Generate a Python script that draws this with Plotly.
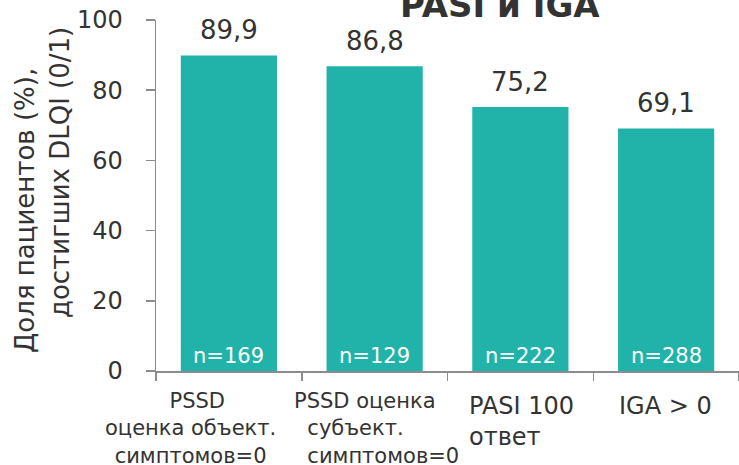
import plotly.graph_objects as go

categories = ["PSSD оценка объект. симптомов=0", "PSSD оценка субъект. симптомов=0",
              "PASI 100 ответ", "IGA > 0"]
values = [89.9, 86.8, 75.2, 69.1]
n_labels = ["n=169", "n=129", "n=222", "n=288"]
tick_label_lines = [
    ["\u00a0\u00a0PSSD", "оценка объект.", "симптомов=0"],
    ["PSSD оценка", "\u00a0\u00a0субъект.", "\u00a0\u00a0симптомов=0"],
    ["PASI 100", "ответ"],
    ["IGA > 0"],
]
y_title_lines = ["Доля пациентов (%),", "достигших DLQI (0/1)"]
y_ticks = [0, 20, 40, 60, 80, 100]
title_text = "PASI и IGA"

FONT = "DejaVu Sans, Verdana, sans-serif"
TXT = "#333333"
BAR = "#21B3AA"
AX = "#8C8C8C"

fig = go.Figure()
fig.add_trace(go.Bar(x=categories, y=values, marker=dict(color=BAR, line=dict(width=0)),
                     width=0.66, hoverinfo="skip"))

ann = []
# value labels
for i, v in enumerate(values):
    ann.append(dict(x=i, y=v, xref="x", yref="y", text=f"{v:.1f}".replace(".", ","),
                    showarrow=False, yanchor="bottom", yshift=8,
                    font=dict(family=FONT, size=26, color=TXT)))
# n labels inside bars
for i, t in enumerate(n_labels):
    ann.append(dict(x=i, y=0, xref="x", yref="y", text=t, showarrow=False,
                    yanchor="bottom", yshift=1,
                    font=dict(family=FONT, size=21, color="white")))
# category labels (styled like the original text boxes)
label_style = [
    dict(xanchor="center", align="center", dx=-0.26, shift=0, size=21, ys=-16),
    dict(xanchor="left", align="left", dx=-0.5, shift=-10, size=21, ys=-16),
    dict(xanchor="left", align="left", dx=-0.5, shift=19, size=24, ys=-19),
    dict(xanchor="left", align="left", dx=-0.5, shift=24, size=24, ys=-19),
]
for i, lines in enumerate(tick_label_lines):
    st = label_style[i]
    ann.append(dict(x=i + st["dx"], y=0, xref="x", yref="y", text="<br>".join(lines),
                    showarrow=False, xanchor=st["xanchor"], align=st["align"],
                    yanchor="top", xshift=st["shift"], yshift=st["ys"],
                    font=dict(family=FONT, size=st["size"], color=TXT)))
# y-axis title, two lines placed as in the original text box
for line, xs, yp in zip(y_title_lines, [-131, -96], [0.456, 0.564]):
    ann.append(dict(x=0, y=yp, xref="paper", yref="paper", text=line,
                    textangle=-90, showarrow=False, xanchor="center", yanchor="middle",
                    xshift=xs, font=dict(family=FONT, size=26, color=TXT)))
# title (partially cut at top in the original)
ann.append(dict(x=(500 - 156) / 583, y=1, xref="paper", yref="paper",
                text=f"<b>{title_text}</b>", showarrow=False, xanchor="center",
                yanchor="bottom", yshift=-7,
                font=dict(family="DejaVu Sans, sans-serif", size=34, color=TXT)))

fig.update_layout(
    width=739, height=465,
    margin=dict(l=156, r=0, t=20, b=94, autoexpand=False),
    paper_bgcolor="white", plot_bgcolor="white",
    showlegend=False,
    annotations=ann,
    xaxis=dict(type="category", range=[-0.5, 3.5], showticklabels=False,
               tickson="boundaries",
               ticks="outside", ticklen=8, tickcolor=AX, tickwidth=1.5,
               showline=True, linecolor=AX, linewidth=1.5, showgrid=False,
               zeroline=False, fixedrange=True, automargin=False),
    yaxis=dict(range=[0, 100], tickvals=y_ticks, ticks="outside", ticklen=9,
               tickcolor=AX, tickwidth=1.5, showline=True, linecolor=AX, linewidth=1.5,
               showgrid=False, zeroline=False, automargin=False, fixedrange=True,
               tickfont=dict(family=FONT, size=24, color=TXT),
               ticklabelstandoff=18),
)

fig.write_html("out.html", config={"displayModeBar": False, "staticPlot": True},
               post_script="document.body.style.margin='0';document.body.style.overflow='hidden';")
